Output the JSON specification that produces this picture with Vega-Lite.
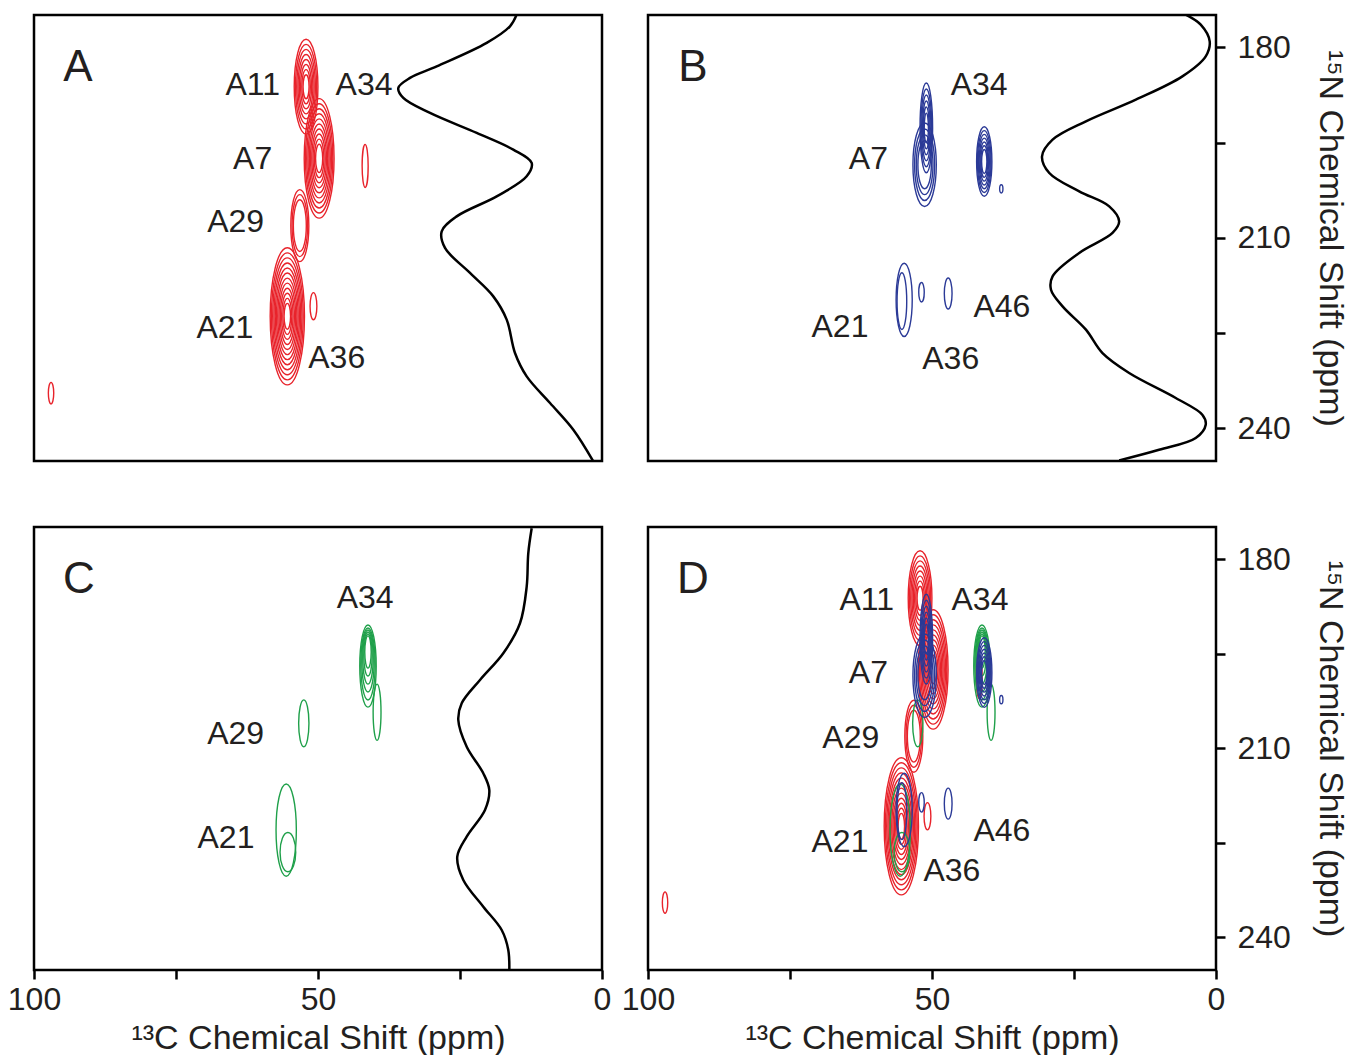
{
  "$schema": "https://vega.github.io/schema/vega-lite/v6.json",
  "background": "white",
  "padding": {"left": 6, "top": 13, "right": 5, "bottom": 5},
  "bounds": "flush",
  "columns": 2,
  "spacing": {"row": 66, "column": 46},
  "datasets": {
    "contours": [
      {"s":"A","set":"A-A11","c":52.1,"n":186.2,"h":15.0},
      {"s":"A","set":"A-A11","c":52.1,"n":186.2,"h":13.4},
      {"s":"A","set":"A-A11","c":52.1,"n":186.2,"h":11.8},
      {"s":"A","set":"A-A11","c":52.1,"n":186.2,"h":10.2},
      {"s":"A","set":"A-A11","c":52.1,"n":186.2,"h":8.6},
      {"s":"A","set":"A-A11","c":52.1,"n":186.2,"h":7.0},
      {"s":"A","set":"A-A11","c":52.1,"n":186.2,"h":5.4},
      {"s":"A","set":"A-A11","c":52.1,"n":186.2,"h":3.8},
      {"s":"A","set":"A-A7","c":49.8,"n":197.5,"h":18.9},
      {"s":"A","set":"A-A7","c":49.8,"n":197.5,"h":17.3},
      {"s":"A","set":"A-A7","c":49.8,"n":197.5,"h":15.7},
      {"s":"A","set":"A-A7","c":49.8,"n":197.5,"h":14.1},
      {"s":"A","set":"A-A7","c":49.8,"n":197.5,"h":12.5},
      {"s":"A","set":"A-A7","c":49.8,"n":197.5,"h":10.9},
      {"s":"A","set":"A-A7","c":49.8,"n":197.5,"h":9.3},
      {"s":"A","set":"A-A7","c":49.8,"n":197.5,"h":7.7},
      {"s":"A","set":"A-A7","c":49.8,"n":197.5,"h":6.1},
      {"s":"A","set":"A-A7","c":49.8,"n":197.5,"h":4.5},
      {"s":"A","set":"A-A29","c":53.2,"n":208.1,"h":11.4},
      {"s":"A","set":"A-A29","c":53.2,"n":208.1,"h":9.8},
      {"s":"A","set":"A-A29","c":53.2,"n":208.1,"h":8.2},
      {"s":"A","set":"A-A21","c":55.4,"n":222.4,"h":21.7},
      {"s":"A","set":"A-A21","c":55.4,"n":222.4,"h":20.1},
      {"s":"A","set":"A-A21","c":55.4,"n":222.4,"h":18.5},
      {"s":"A","set":"A-A21","c":55.4,"n":222.4,"h":16.9},
      {"s":"A","set":"A-A21","c":55.4,"n":222.4,"h":15.3},
      {"s":"A","set":"A-A21","c":55.4,"n":222.4,"h":13.7},
      {"s":"A","set":"A-A21","c":55.4,"n":222.4,"h":12.1},
      {"s":"A","set":"A-A21","c":55.4,"n":222.4,"h":10.5},
      {"s":"A","set":"A-A21","c":55.4,"n":222.4,"h":8.9},
      {"s":"A","set":"A-A21","c":55.4,"n":222.4,"h":7.3},
      {"s":"A","set":"A-A21","c":55.4,"n":222.4,"h":5.7},
      {"s":"A","set":"A-A21","c":55.4,"n":222.4,"h":4.1},
      {"s":"A","set":"A-A36","c":50.8,"n":220.8,"h":4.3},
      {"s":"A","set":"A-A34","c":41.7,"n":198.7,"h":6.8},
      {"s":"A","set":"A-x","c":97.0,"n":234.5,"h":3.4},
      {"s":"C","set":"C-A34","c":41.2,"n":196.96,"h":13.0},
      {"s":"C","set":"C-A34","c":41.2,"n":196.64,"h":11.4},
      {"s":"C","set":"C-A34","c":41.2,"n":196.16,"h":9.8},
      {"s":"C","set":"C-A34","c":41.2,"n":195.69,"h":8.25},
      {"s":"C","set":"C-A34","c":41.2,"n":195.21,"h":6.66},
      {"s":"C","set":"C-A34","c":41.2,"n":194.73,"h":5.08},
      {"s":"C","set":"C-A34t","c":39.6,"n":204.3,"h":8.9},
      {"s":"C","set":"C-A29","c":52.5,"n":206.05,"h":7.4},
      {"s":"C","set":"C-A21","c":55.6,"n":223.0,"h":14.6},
      {"s":"C","set":"C-A21i","c":55.3,"n":226.5,"h":6.2},
      {"s":"B","set":"B-A7","c":51.3,"n":198.5,"h":13.2},
      {"s":"B","set":"B-A7","c":51.3,"n":198.5,"h":11.3},
      {"s":"B","set":"B-A7","c":51.3,"n":198.5,"h":9.45},
      {"s":"B","set":"B-A7","c":51.3,"n":198.5,"h":7.6},
      {"s":"B","set":"B-A7n","c":51.0,"n":192.7,"h":14.2},
      {"s":"B","set":"B-A7n","c":51.0,"n":192.7,"h":12.3},
      {"s":"B","set":"B-A7n","c":51.0,"n":192.7,"h":10.4},
      {"s":"B","set":"B-A7n","c":51.0,"n":192.7,"h":8.5},
      {"s":"B","set":"B-A7n","c":51.0,"n":192.7,"h":6.6},
      {"s":"B","set":"B-A7n","c":51.0,"n":192.7,"h":4.7},
      {"s":"B","set":"B-A34","c":40.8,"n":198.0,"h":11.0},
      {"s":"B","set":"B-A34","c":40.8,"n":198.0,"h":9.8},
      {"s":"B","set":"B-A34","c":40.8,"n":198.0,"h":8.6},
      {"s":"B","set":"B-A34","c":40.8,"n":198.0,"h":7.4},
      {"s":"B","set":"B-A34","c":40.8,"n":198.0,"h":6.2},
      {"s":"B","set":"B-A34","c":40.8,"n":198.0,"h":5.0},
      {"s":"B","set":"B-A34","c":40.8,"n":198.0,"h":3.8},
      {"s":"B","set":"B-x","c":37.8,"n":202.3,"h":1.3},
      {"s":"B","set":"B-A21","c":54.9,"n":219.8,"h":11.6},
      {"s":"B","set":"B-A21i","c":55.3,"n":220.0,"h":9.0},
      {"s":"B","set":"B-A36","c":51.85,"n":218.6,"h":3.1},
      {"s":"B","set":"B-A46","c":47.15,"n":218.8,"h":4.9}
    ],
    "traces": [
      {"panel":"A","c":15.02,"n":174.84},{"panel":"A","c":16.2,"n":176.68},{"panel":"A","c":20.3,"n":179.3},
      {"panel":"A","c":29.1,"n":183.0},{"panel":"A","c":33.8,"n":184.82},{"panel":"A","c":35.86,"n":186.4},
      {"panel":"A","c":34.98,"n":187.97},{"panel":"A","c":30.28,"n":190.34},{"panel":"A","c":22.06,"n":193.49},
      {"panel":"A","c":15.62,"n":196.12},{"panel":"A","c":12.38,"n":198.22},{"panel":"A","c":13.26,"n":200.33},
      {"panel":"A","c":18.54,"n":203.49},{"panel":"A","c":25.58,"n":206.64},{"panel":"A","c":28.22,"n":209.0},
      {"panel":"A","c":27.64,"n":211.62},{"panel":"A","c":23.24,"n":215.56},{"panel":"A","c":19.14,"n":219.25},
      {"panel":"A","c":16.78,"n":222.92},{"panel":"A","c":15.32,"n":228.17},{"panel":"A","c":13.26,"n":231.86},
      {"panel":"A","c":9.15,"n":236.06},{"panel":"A","c":5.05,"n":240.27},{"panel":"A","c":1.5,"n":245.3},
      {"panel":"B","c":5.33,"n":174.84},{"panel":"B","c":2.69,"n":176.42},{"panel":"B","c":1.11,"n":179.05},
      {"panel":"B","c":1.81,"n":181.41},{"panel":"B","c":5.92,"n":184.57},{"panel":"B","c":14.11,"n":188.24},
      {"panel":"B","c":22.9,"n":191.66},{"panel":"B","c":28.77,"n":194.55},{"panel":"B","c":30.63,"n":197.18},
      {"panel":"B","c":29.35,"n":199.8},{"panel":"B","c":24.08,"n":202.7},{"panel":"B","c":18.8,"n":205.06},
      {"panel":"B","c":17.05,"n":207.43},{"panel":"B","c":18.22,"n":209.26},{"panel":"B","c":24.08,"n":212.41},
      {"panel":"B","c":28.77,"n":216.1},{"panel":"B","c":29.05,"n":218.2},{"panel":"B","c":27.01,"n":220.83},
      {"panel":"B","c":22.9,"n":224.5},{"panel":"B","c":19.98,"n":228.2},{"panel":"B","c":15.29,"n":231.33},
      {"panel":"B","c":7.08,"n":235.27},{"panel":"B","c":2.41,"n":237.9},{"panel":"B","c":1.81,"n":239.48},
      {"panel":"B","c":3.57,"n":241.57},{"panel":"B","c":10.02,"n":243.42},{"panel":"B","c":17.05,"n":245.1},
      {"panel":"C","c":12.38,"n":175.11},{"panel":"C","c":12.98,"n":179.07},{"panel":"C","c":13.26,"n":184.37},
      {"panel":"C","c":14.44,"n":190.18},{"panel":"C","c":17.38,"n":194.94},{"panel":"C","c":21.48,"n":199.18},
      {"panel":"C","c":24.7,"n":202.88},{"panel":"C","c":25.3,"n":205.52},{"panel":"C","c":23.82,"n":209.76},
      {"panel":"C","c":20.9,"n":213.98},{"panel":"C","c":19.84,"n":216.63},{"panel":"C","c":20.6,"n":219.81},
      {"panel":"C","c":23.82,"n":224.04},{"panel":"C","c":25.48,"n":227.22},{"panel":"C","c":24.42,"n":230.91},
      {"panel":"C","c":20.9,"n":235.15},{"panel":"C","c":17.66,"n":238.85},{"panel":"C","c":16.5,"n":242.02},
      {"panel":"C","c":16.32,"n":245.46}
    ],
    "labels": [
      {"panel":"A","kind":"panel","text":"A","c":92.25,"n":183.2},
      {"panel":"A","kind":"peak","text":"A11","c":61.5,"n":186.0},
      {"panel":"A","kind":"peak","text":"A34","c":41.9,"n":186.0},
      {"panel":"A","kind":"peak","text":"A7","c":61.5,"n":197.6},
      {"panel":"A","kind":"peak","text":"A29","c":64.5,"n":207.6},
      {"panel":"A","kind":"peak","text":"A21","c":66.4,"n":224.2},
      {"panel":"A","kind":"peak","text":"A36","c":46.7,"n":228.9},
      {"panel":"B","kind":"panel","text":"B","c":92.1,"n":183.2},
      {"panel":"B","kind":"peak","text":"A34","c":41.7,"n":185.9},
      {"panel":"B","kind":"peak","text":"A7","c":61.2,"n":197.6},
      {"panel":"B","kind":"peak","text":"A46","c":37.7,"n":221.0},
      {"panel":"B","kind":"peak","text":"A21","c":66.2,"n":224.1},
      {"panel":"B","kind":"peak","text":"A36","c":46.7,"n":229.1},
      {"panel":"C","kind":"panel","text":"C","c":92.1,"n":183.3},
      {"panel":"C","kind":"peak","text":"A34","c":41.7,"n":186.1},
      {"panel":"C","kind":"peak","text":"A29","c":64.5,"n":207.75},
      {"panel":"C","kind":"peak","text":"A21","c":66.2,"n":224.3},
      {"panel":"D","kind":"panel","text":"D","c":92.1,"n":183.3},
      {"panel":"D","kind":"peak","text":"A11","c":61.5,"n":186.5},
      {"panel":"D","kind":"peak","text":"A34","c":41.55,"n":186.5},
      {"panel":"D","kind":"peak","text":"A7","c":61.2,"n":198.1},
      {"panel":"D","kind":"peak","text":"A29","c":64.3,"n":208.4},
      {"panel":"D","kind":"peak","text":"A46","c":37.7,"n":223.1},
      {"panel":"D","kind":"peak","text":"A21","c":66.2,"n":224.9},
      {"panel":"D","kind":"peak","text":"A36","c":46.5,"n":229.5}
    ]
  },
  "concat": [
    {
      "width": 568, "height": 446,
      "encoding": {
        "x": {"field": "c", "type": "quantitative", "scale": {"domain": [0, 100], "reverse": true, "nice": false, "zero": false}, "axis": null},
        "y": {"field": "n", "type": "quantitative", "scale": {"domain": [174.9, 245.2], "reverse": true, "nice": false, "zero": false}, "axis": null}
      },
      "layer": [
        {
          "data": {"name": "contours"},
          "transform": [{"filter": "datum.s === 'A'"}],
          "mark": {"type": "point", "filled": false, "opacity": 1, "strokeWidth": 1.4, "clip": true},
          "encoding": {
            "color": {"field": "s", "type": "nominal", "scale": {"domain": ["A", "B", "C"], "range": ["#e8232b", "#2b3a97", "#1fa04a"]}, "legend": null},
            "shape": {"field": "set", "type": "nominal", "scale": {"domain": ["A-A11","A-A7","A-A29","A-A21","A-A36","A-A34","A-x","B-A7","B-A7n","B-A34","B-x","B-A21","B-A21i","B-A36","B-A46","C-A34","C-A34t","C-A29","C-A21","C-A21i"]}, "legend": null},
            "size": {"field": "h", "type": "quantitative", "scale": {"type": "pow", "exponent": 2, "domain": [0, 25], "range": [0, 24964]}, "legend": null}
          }
        },
        {
          "data": {"name": "traces"},
          "transform": [{"filter": "datum.panel === 'A'"}],
          "mark": {"type": "line", "color": "black", "strokeWidth": 2.5, "clip": true, "interpolate": "catmull-rom"},
          "encoding": {"order": {"field": "n", "type": "quantitative"}}
        },
        {
          "data": {"name": "labels"},
          "transform": [{"filter": "datum.panel === 'A' && datum.kind === 'peak'"}],
          "mark": {"type": "text", "fontSize": 32},
          "encoding": {"text": {"field": "text"}}
        },
        {
          "data": {"name": "labels"},
          "transform": [{"filter": "datum.panel === 'A' && datum.kind === 'panel'"}],
          "mark": {"type": "text", "fontSize": 44},
          "encoding": {"text": {"field": "text"}}
        }
      ]
    },
    {
      "width": 568, "height": 446,
      "encoding": {
        "x": {"field": "c", "type": "quantitative", "scale": {"domain": [0, 100], "reverse": true, "nice": false, "zero": false}, "axis": null},
        "y": {"field": "n", "type": "quantitative", "scale": {"domain": [174.9, 245.2], "reverse": true, "nice": false, "zero": false},
              "axis": {"orient": "right", "values": [180, 195, 210, 225, 240], "labelExpr": "datum.value % 30 === 0 ? datum.label : ''", "title": "¹⁵N Chemical Shift (ppm)", "titleAngle": 90, "tickSize": 9, "labelPadding": 12, "titlePadding": 22}}
      },
      "layer": [
        {
          "data": {"name": "contours"},
          "transform": [{"filter": "datum.s === 'B'"}],
          "mark": {"type": "point", "filled": false, "opacity": 1, "strokeWidth": 1.4, "clip": true},
          "encoding": {
            "color": {"field": "s", "type": "nominal", "scale": {"domain": ["A", "B", "C"], "range": ["#e8232b", "#2b3a97", "#1fa04a"]}, "legend": null},
            "shape": {"field": "set", "type": "nominal", "scale": {"domain": ["A-A11","A-A7","A-A29","A-A21","A-A36","A-A34","A-x","B-A7","B-A7n","B-A34","B-x","B-A21","B-A21i","B-A36","B-A46","C-A34","C-A34t","C-A29","C-A21","C-A21i"]}, "legend": null},
            "size": {"field": "h", "type": "quantitative", "scale": {"type": "pow", "exponent": 2, "domain": [0, 25], "range": [0, 24964]}, "legend": null}
          }
        },
        {
          "data": {"name": "traces"},
          "transform": [{"filter": "datum.panel === 'B'"}],
          "mark": {"type": "line", "color": "black", "strokeWidth": 2.5, "clip": true, "interpolate": "catmull-rom"},
          "encoding": {"order": {"field": "n", "type": "quantitative"}}
        },
        {
          "data": {"name": "labels"},
          "transform": [{"filter": "datum.panel === 'B' && datum.kind === 'peak'"}],
          "mark": {"type": "text", "fontSize": 32},
          "encoding": {"text": {"field": "text"}}
        },
        {
          "data": {"name": "labels"},
          "transform": [{"filter": "datum.panel === 'B' && datum.kind === 'panel'"}],
          "mark": {"type": "text", "fontSize": 44},
          "encoding": {"text": {"field": "text"}}
        }
      ]
    },
    {
      "width": 568, "height": 443,
      "encoding": {
        "x": {"field": "c", "type": "quantitative", "scale": {"domain": [0, 100], "reverse": true, "nice": false, "zero": false},
              "axis": {"values": [100, 75, 50, 25, 0], "labelExpr": "datum.value % 50 === 0 ? datum.label : ''", "title": "¹³C Chemical Shift (ppm)", "tickSize": 9, "labelPadding": 5, "titlePadding": 6, "labelFlush": false, "labelOverlap": false}},
        "y": {"field": "n", "type": "quantitative", "scale": {"domain": [174.9, 245.2], "reverse": true, "nice": false, "zero": false}, "axis": null}
      },
      "layer": [
        {
          "data": {"name": "contours"},
          "transform": [{"filter": "datum.s === 'C'"}],
          "mark": {"type": "point", "filled": false, "opacity": 1, "strokeWidth": 1.4, "clip": true},
          "encoding": {
            "color": {"field": "s", "type": "nominal", "scale": {"domain": ["A", "B", "C"], "range": ["#e8232b", "#2b3a97", "#1fa04a"]}, "legend": null},
            "shape": {"field": "set", "type": "nominal", "scale": {"domain": ["A-A11","A-A7","A-A29","A-A21","A-A36","A-A34","A-x","B-A7","B-A7n","B-A34","B-x","B-A21","B-A21i","B-A36","B-A46","C-A34","C-A34t","C-A29","C-A21","C-A21i"]}, "legend": null},
            "size": {"field": "h", "type": "quantitative", "scale": {"type": "pow", "exponent": 2, "domain": [0, 25], "range": [0, 24964]}, "legend": null}
          }
        },
        {
          "data": {"name": "traces"},
          "transform": [{"filter": "datum.panel === 'C'"}],
          "mark": {"type": "line", "color": "black", "strokeWidth": 2.5, "clip": true, "interpolate": "catmull-rom"},
          "encoding": {"order": {"field": "n", "type": "quantitative"}}
        },
        {
          "data": {"name": "labels"},
          "transform": [{"filter": "datum.panel === 'C' && datum.kind === 'peak'"}],
          "mark": {"type": "text", "fontSize": 32},
          "encoding": {"text": {"field": "text"}}
        },
        {
          "data": {"name": "labels"},
          "transform": [{"filter": "datum.panel === 'C' && datum.kind === 'panel'"}],
          "mark": {"type": "text", "fontSize": 44},
          "encoding": {"text": {"field": "text"}}
        }
      ]
    },
    {
      "width": 568, "height": 443,
      "encoding": {
        "x": {"field": "c", "type": "quantitative", "scale": {"domain": [0, 100], "reverse": true, "nice": false, "zero": false},
              "axis": {"values": [100, 75, 50, 25, 0], "labelExpr": "datum.value % 50 === 0 ? datum.label : ''", "title": "¹³C Chemical Shift (ppm)", "tickSize": 9, "labelPadding": 5, "titlePadding": 6, "labelFlush": false, "labelOverlap": false}},
        "y": {"field": "n", "type": "quantitative", "scale": {"domain": [174.9, 245.2], "reverse": true, "nice": false, "zero": false},
              "axis": {"orient": "right", "values": [180, 195, 210, 225, 240], "labelExpr": "datum.value % 30 === 0 ? datum.label : ''", "title": "¹⁵N Chemical Shift (ppm)", "titleAngle": 90, "tickSize": 9, "labelPadding": 12, "titlePadding": 22}}
      },
      "layer": [
        {
          "data": {"name": "contours"},
          "mark": {"type": "point", "filled": false, "opacity": 1, "strokeWidth": 1.4, "clip": true},
          "encoding": {
            "color": {"field": "s", "type": "nominal", "scale": {"domain": ["A", "B", "C"], "range": ["#e8232b", "#2b3a97", "#1fa04a"]}, "legend": null},
            "shape": {"field": "set", "type": "nominal", "scale": {"domain": ["A-A11","A-A7","A-A29","A-A21","A-A36","A-A34","A-x","B-A7","B-A7n","B-A34","B-x","B-A21","B-A21i","B-A36","B-A46","C-A34","C-A34t","C-A29","C-A21","C-A21i"]}, "legend": null},
            "size": {"field": "h", "type": "quantitative", "scale": {"type": "pow", "exponent": 2, "domain": [0, 25], "range": [0, 24964]}, "legend": null}
          }
        },
        {
          "data": {"name": "labels"},
          "transform": [{"filter": "datum.panel === 'D' && datum.kind === 'peak'"}],
          "mark": {"type": "text", "fontSize": 32},
          "encoding": {"text": {"field": "text"}}
        },
        {
          "data": {"name": "labels"},
          "transform": [{"filter": "datum.panel === 'D' && datum.kind === 'panel'"}],
          "mark": {"type": "text", "fontSize": 44},
          "encoding": {"text": {"field": "text"}}
        }
      ]
    }
  ],
  "config": {
    "view": {"stroke": "black", "strokeWidth": 2.5},
    "font": "Liberation Sans",
    "text": {"font": "Liberation Sans", "color": "#231f20", "align": "center", "baseline": "middle"},
    "axis": {
      "domain": false, "grid": false,
      "tickColor": "black", "tickWidth": 2.5,
      "labelFont": "Liberation Sans", "labelFontSize": 32, "labelColor": "#231f20",
      "titleFont": "Liberation Sans", "titleFontSize": 34, "titleFontWeight": "normal", "titleColor": "#231f20"
    },
    "range": {
      "symbol": [
        "M0,-1C0.138,-1,0.25,-0.552,0.25,0C0.25,0.552,0.138,1,0,1C-0.138,1,-0.25,0.552,-0.25,0C-0.25,-0.552,-0.138,-1,0,-1Z",
        "M0,-1C0.138,-1,0.25,-0.552,0.25,0C0.25,0.552,0.138,1,0,1C-0.138,1,-0.25,0.552,-0.25,0C-0.25,-0.552,-0.138,-1,0,-1Z",
        "M0,-1C0.138,-1,0.25,-0.552,0.25,0C0.25,0.552,0.138,1,0,1C-0.138,1,-0.25,0.552,-0.25,0C-0.25,-0.552,-0.138,-1,0,-1Z",
        "M0,-1C0.138,-1,0.25,-0.552,0.25,0C0.25,0.552,0.138,1,0,1C-0.138,1,-0.25,0.552,-0.25,0C-0.25,-0.552,-0.138,-1,0,-1Z",
        "M0,-1C0.138,-1,0.25,-0.552,0.25,0C0.25,0.552,0.138,1,0,1C-0.138,1,-0.25,0.552,-0.25,0C-0.25,-0.552,-0.138,-1,0,-1Z",
        "M0,-1C0.077,-1,0.14,-0.552,0.14,0C0.14,0.552,0.077,1,0,1C-0.077,1,-0.14,0.552,-0.14,0C-0.14,-0.552,-0.077,-1,0,-1Z",
        "M0,-1C0.138,-1,0.25,-0.552,0.25,0C0.25,0.552,0.138,1,0,1C-0.138,1,-0.25,0.552,-0.25,0C-0.25,-0.552,-0.138,-1,0,-1Z",
        "M0,-1C0.155,-1,0.28,-0.552,0.28,0C0.28,0.552,0.155,1,0,1C-0.155,1,-0.28,0.552,-0.28,0C-0.28,-0.552,-0.155,-1,0,-1Z",
        "M0,-1C0.077,-1,0.14,-0.552,0.14,0C0.14,0.552,0.077,1,0,1C-0.077,1,-0.14,0.552,-0.14,0C-0.14,-0.552,-0.077,-1,0,-1Z",
        "M0,-1C0.122,-1,0.22,-0.552,0.22,0C0.22,0.552,0.122,1,0,1C-0.122,1,-0.22,0.552,-0.22,0C-0.22,-0.552,-0.122,-1,0,-1Z",
        "M0,-1C0.221,-1,0.4,-0.552,0.4,0C0.4,0.552,0.221,1,0,1C-0.221,1,-0.4,0.552,-0.4,0C-0.4,-0.552,-0.221,-1,0,-1Z",
        "M0,-1C0.122,-1,0.22,-0.552,0.22,0C0.22,0.552,0.122,1,0,1C-0.122,1,-0.22,0.552,-0.22,0C-0.22,-0.552,-0.122,-1,0,-1Z",
        "M0,-1C0.094,-1,0.17,-0.552,0.17,0C0.17,0.552,0.094,1,0,1C-0.094,1,-0.17,0.552,-0.17,0C-0.17,-0.552,-0.094,-1,0,-1Z",
        "M0,-1C0.155,-1,0.28,-0.552,0.28,0C0.28,0.552,0.155,1,0,1C-0.155,1,-0.28,0.552,-0.28,0C-0.28,-0.552,-0.155,-1,0,-1Z",
        "M0,-1C0.138,-1,0.25,-0.552,0.25,0C0.25,0.552,0.138,1,0,1C-0.138,1,-0.25,0.552,-0.25,0C-0.25,-0.552,-0.138,-1,0,-1Z",
        "M0,-1C0.11,-1,0.2,-0.552,0.2,0C0.2,0.552,0.11,1,0,1C-0.11,1,-0.2,0.552,-0.2,0C-0.2,-0.552,-0.11,-1,0,-1Z",
        "M0,-1C0.077,-1,0.14,-0.552,0.14,0C0.14,0.552,0.077,1,0,1C-0.077,1,-0.14,0.552,-0.14,0C-0.14,-0.552,-0.077,-1,0,-1Z",
        "M0,-1C0.122,-1,0.22,-0.552,0.22,0C0.22,0.552,0.122,1,0,1C-0.122,1,-0.22,0.552,-0.22,0C-0.22,-0.552,-0.122,-1,0,-1Z",
        "M0,-1C0.122,-1,0.22,-0.552,0.22,0C0.22,0.552,0.122,1,0,1C-0.122,1,-0.22,0.552,-0.22,0C-0.22,-0.552,-0.122,-1,0,-1Z",
        "M0,-1C0.221,-1,0.4,-0.552,0.4,0C0.4,0.552,0.221,1,0,1C-0.221,1,-0.4,0.552,-0.4,0C-0.4,-0.552,-0.221,-1,0,-1Z"
      ]
    }
  }
}
